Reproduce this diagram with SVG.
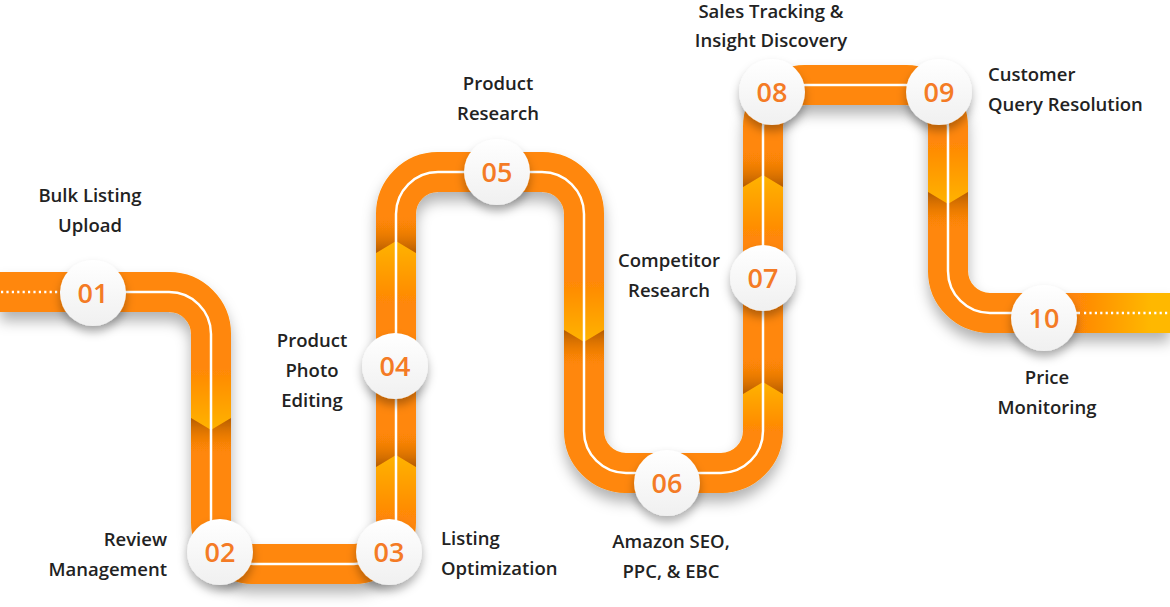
<svg xmlns="http://www.w3.org/2000/svg" width="1170" height="607" viewBox="0 0 1170 607">
<defs>
<style>
.lbl{font-family:"Open Sans","Liberation Sans",sans-serif;font-weight:600;font-size:18.5px;fill:#222}
.num{font-family:"Open Sans","Liberation Sans",sans-serif;font-weight:600;font-size:27px;fill:#f47b25;text-anchor:middle}
.c{text-anchor:middle}
.e{text-anchor:end}
.dot{fill:none;stroke:#fff;stroke-width:2.4;stroke-dasharray:2.2 3.2}
.disc{fill:url(#gDisc);filter:url(#fDisc)}
</style>
<linearGradient id="gYD" x1="0" y1="0" x2="0" y2="1"><stop offset="0" stop-color="#ff8707"/><stop offset="1" stop-color="#ffb300"/></linearGradient>
<linearGradient id="gYU" x1="0" y1="0" x2="0" y2="1"><stop offset="0" stop-color="#ffb300"/><stop offset="1" stop-color="#ff8707"/></linearGradient>
<linearGradient id="gSD" x1="0" y1="0" x2="0" y2="1"><stop offset="0" stop-color="#a65400" stop-opacity="0.85"/><stop offset="1" stop-color="#ff8707" stop-opacity="0"/></linearGradient>
<linearGradient id="gSU" x1="0" y1="0" x2="0" y2="1"><stop offset="0" stop-color="#ff8707" stop-opacity="0"/><stop offset="1" stop-color="#a65400" stop-opacity="0.85"/></linearGradient>
<linearGradient id="gEnd" x1="0" y1="0" x2="1" y2="0"><stop offset="0" stop-color="#ff8707"/><stop offset="0.8" stop-color="#ffb800"/><stop offset="1" stop-color="#ffb800"/></linearGradient>
<linearGradient id="gDisc" x1="0" y1="0" x2="0" y2="1"><stop offset="0" stop-color="#ffffff"/><stop offset="1" stop-color="#f0f0f0"/></linearGradient>
<filter id="fRoad" x="-10%" y="-10%" width="120%" height="130%"><feDropShadow dx="0" dy="9" stdDeviation="7" flood-color="#000" flood-opacity="0.3"/></filter>
<filter id="fDisc" x="-50%" y="-50%" width="200%" height="220%"><feDropShadow dx="0" dy="6" stdDeviation="5" flood-color="#000" flood-opacity="0.3"/></filter>
</defs>
<rect width="1170" height="607" fill="#fff"/>
<g id="connectors">
<g id="road" filter="url(#fRoad)">
<path d="M 0 292 H 169 A 42 42 0 0 1 211 334 V 522 A 42 42 0 0 0 253 564 H 354 A 42 42 0 0 0 396 522 V 214 A 42 42 0 0 1 438 172 H 542 A 42 42 0 0 1 584 214 V 431 A 42 42 0 0 0 626 473 H 721 A 42 42 0 0 0 763 431 V 127 A 42 42 0 0 1 805 85 H 906 A 42 42 0 0 1 948 127 V 271 A 42 42 0 0 0 990 313 H 1170" fill="none" stroke="#ff8707" stroke-width="40"/>
<rect x="1077" y="293" width="93" height="40" fill="url(#gEnd)"/>
<polygon points="191,368 231,368 231,418 211,430 191,418" fill="url(#gYD)"/>
<polygon points="191,418 211,430 231,418 231,456 191,456" fill="url(#gSD)"/>
<polygon points="376,467 396,455 416,467 416,517 376,517" fill="url(#gYU)"/>
<polygon points="376,429 416,429 416,467 396,455 376,467" fill="url(#gSU)"/>
<polygon points="376,253 396,241 416,253 416,303 376,303" fill="url(#gYU)"/>
<polygon points="376,215 416,215 416,253 396,241 376,253" fill="url(#gSU)"/>
<polygon points="564,280 604,280 604,330 584,342 564,330" fill="url(#gYD)"/>
<polygon points="564,330 584,342 604,330 604,368 564,368" fill="url(#gSD)"/>
<polygon points="743,394 763,382 783,394 783,431 743,431" fill="url(#gYU)"/>
<polygon points="743,356 783,356 783,394 763,382 743,394" fill="url(#gSU)"/>
<polygon points="743,187 763,175 783,187 783,237 743,237" fill="url(#gYU)"/>
<polygon points="743,149 783,149 783,187 763,175 743,187" fill="url(#gSU)"/>
<polygon points="928,142 968,142 968,192 948,204 928,192" fill="url(#gYD)"/>
<polygon points="928,192 948,204 968,192 968,230 928,230" fill="url(#gSD)"/>
<path d="M 60 292 H 169 A 42 42 0 0 1 211 334 V 522 A 42 42 0 0 0 253 564 H 354 A 42 42 0 0 0 396 522 V 214 A 42 42 0 0 1 438 172 H 542 A 42 42 0 0 1 584 214 V 431 A 42 42 0 0 0 626 473 H 721 A 42 42 0 0 0 763 431 V 127 A 42 42 0 0 1 805 85 H 906 A 42 42 0 0 1 948 127 V 271 A 42 42 0 0 0 990 313 H 1080" fill="none" stroke="#fff" stroke-width="2.5"/>
</g>
<line class="dot" x1="1" y1="292" x2="60" y2="292"/>
<line class="dot" x1="1084" y1="313" x2="1170" y2="313"/>
</g>
<g id="n01"><circle class="disc" cx="93" cy="293" r="33"/><text class="num" x="93" y="302.5">01</text>
<text class="lbl c" x="90" y="202">Bulk Listing</text><text class="lbl c" x="90" y="232">Upload</text></g>
<g id="n02"><circle class="disc" cx="220" cy="552" r="33"/><text class="num" x="220" y="561.5">02</text>
<text class="lbl e" x="167" y="546">Review</text><text class="lbl e" x="167" y="576">Management</text></g>
<g id="n03"><circle class="disc" cx="389" cy="552" r="33"/><text class="num" x="389" y="561.5">03</text>
<text class="lbl" x="441" y="545">Listing</text><text class="lbl" x="441" y="575">Optimization</text></g>
<g id="n04"><circle class="disc" cx="395" cy="366" r="33"/><text class="num" x="395" y="375.5">04</text>
<text class="lbl c" x="312" y="347">Product</text><text class="lbl c" x="312" y="377">Photo</text><text class="lbl c" x="312" y="407">Editing</text></g>
<g id="n05"><circle class="disc" cx="497" cy="172" r="33"/><text class="num" x="497" y="181.5">05</text>
<text class="lbl c" x="498" y="90">Product</text><text class="lbl c" x="498" y="120">Research</text></g>
<g id="n06"><circle class="disc" cx="667" cy="483" r="33"/><text class="num" x="667" y="492.5">06</text>
<text class="lbl c" x="671" y="548">Amazon SEO,</text><text class="lbl c" x="671" y="578">PPC, &amp; EBC</text></g>
<g id="n07"><circle class="disc" cx="763" cy="278" r="33"/><text class="num" x="763" y="287.5">07</text>
<text class="lbl c" x="669" y="267">Competitor</text><text class="lbl c" x="669" y="297">Research</text></g>
<g id="n08"><circle class="disc" cx="772" cy="92" r="33"/><text class="num" x="772" y="101.5">08</text>
<text class="lbl c" x="771" y="18">Sales Tracking &amp;</text><text class="lbl c" x="771" y="47">Insight Discovery</text></g>
<g id="n09"><circle class="disc" cx="939" cy="92" r="33"/><text class="num" x="939" y="101.5">09</text>
<text class="lbl" x="988" y="81">Customer</text><text class="lbl" x="988" y="111">Query Resolution</text></g>
<g id="n10"><circle class="disc" cx="1044" cy="318" r="33"/><text class="num" x="1044" y="327.5">10</text>
<text class="lbl c" x="1047" y="384">Price</text><text class="lbl c" x="1047" y="414">Monitoring</text></g>
</svg>
